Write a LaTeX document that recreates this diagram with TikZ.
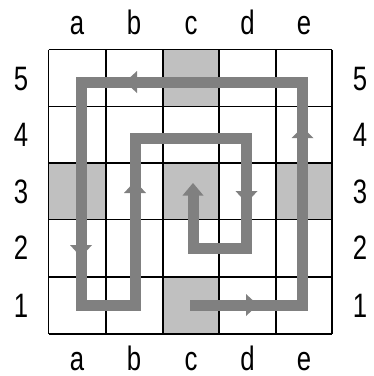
\documentclass[tikz,border=0pt]{standalone}
\usepackage{fontspec}
\setmainfont{Liberation Sans}[FakeStretch=0.76]
\definecolor{pathgray}{RGB}{128,128,128}
\definecolor{cellgray}{RGB}{192,192,192}
\tikzset{
  lbl/.style={anchor=base, font=\fontsize{34}{34}\selectfont, inner sep=0pt},
  gridline/.style={draw=black, line width=1.5bp},
  shade/.style={fill=cellgray},
  route/.style={draw=pathgray, line width=11bp, line join=miter},
  wing/.style={fill=pathgray}
}
\begin{document}
\begin{tikzpicture}[x=1bp,y=-1bp]
\useasboundingbox (0,0) rectangle (374,376);
% shaded cells
\fill[shade] (163,49.5) rectangle (219,106.5);
\fill[shade] (48.5,163) rectangle (106,219.5);
\fill[shade] (163,163) rectangle (219,219.5);
\fill[shade] (276,163) rectangle (332,219.5);
\fill[shade] (163,277) rectangle (219,334);
% grid
\foreach \x in {48.5,106,163,219,276,332} \draw[gridline] (\x,49.5) -- (\x,334);
\foreach \y in {49.5,106.5,163,219.5,277,334} \draw[gridline] (48.5,\y) -- (332,\y);
% labels
\foreach \c/\x in {a/77,b/134,c/191,d/247.5,e/304} {
  \node[lbl] (top\c) at (\x,34) {\c};
  \node[lbl] (bot\c) at (\x,370) {\c};
}
\foreach \r/\y in {5/90,4/146.5,3/203,2/259.5,1/317} {
  \node[lbl] (left\r) at (21,\y) {\r};
  \node[lbl] (right\r) at (360,\y) {\r};
}
% route
\coordinate (p0) at (190,305);
\coordinate (p1) at (302.5,305);
\coordinate (p2) at (302.5,82);
\coordinate (p3) at (81,82);
\coordinate (p4) at (81,305);
\coordinate (p5) at (135,305);
\coordinate (p6) at (135,138);
\coordinate (p7) at (246.5,138);
\coordinate (p8) at (246.5,248);
\coordinate (p9) at (193,248);
\coordinate (p10) at (193,195);
\coordinate (tip) at (193,183);
\draw[route] (p0) -- (p1) -- (p2) -- (p3) -- (p4) -- (p5) -- (p6) -- (p7) -- (p8) -- (p9) -- (p10);
\fill[wing] (tip) -- (182.5,195.5) -- (203.5,195.5) -- cycle;
% direction marks along the route
\fill[wing] (125,82) -- (137,71) -- (137,93) -- cycle;       % b5 left
\fill[wing] (302.5,127) -- (291.5,138) -- (313.5,138) -- cycle; % e4 up
\fill[wing] (81,257) -- (70,245) -- (92,245) -- cycle;       % a2 down
\fill[wing] (135,181) -- (124,193) -- (146,193) -- cycle;    % b3 up
\fill[wing] (246.5,203) -- (235.5,191) -- (257.5,191) -- cycle; % d3 down
\fill[wing] (258,305) -- (246,294) -- (246,316) -- cycle;    % d1 right
\end{tikzpicture}
\end{document}
